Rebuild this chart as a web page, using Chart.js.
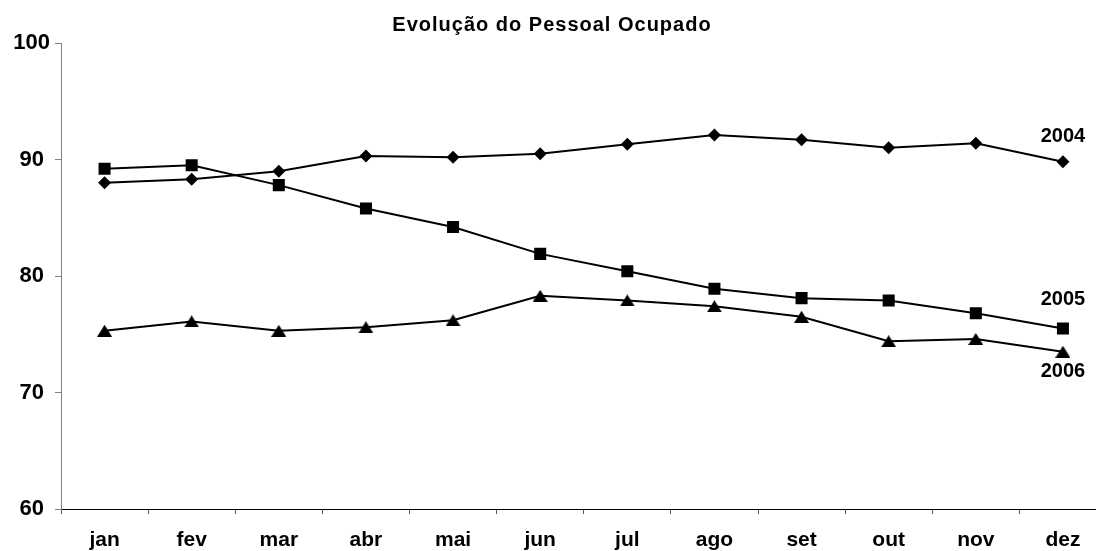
<!DOCTYPE html>
<html>
<head>
<meta charset="utf-8">
<script src="https://cdn.jsdelivr.net/npm/chart.js@4/dist/chart.umd.min.js"></script>
<style>
  html, body { margin: 0; padding: 0; background: #fff; overflow: hidden; }
  #wrap { width: 1115px; height: 551px; }
</style>
</head>
<body>
<div id="wrap"><canvas id="chart"></canvas></div>
<script>
const months = ['jan', 'fev', 'mar', 'abr', 'mai', 'jun', 'jul', 'ago', 'set', 'out', 'nov', 'dez'];
const yearLabels = ['2004', '2005', '2006'];
const serie2004 = [88.0, 88.3, 89.0, 90.3, 90.2, 90.5, 91.3, 92.1, 91.7, 91.0, 91.4, 89.8];
const serie2005 = [89.2, 89.5, 87.8, 85.8, 84.2, 81.9, 80.4, 78.9, 78.1, 77.9, 76.8, 75.5];
const serie2006 = [75.3, 76.1, 75.3, 75.6, 76.2, 78.3, 77.9, 77.4, 76.5, 74.4, 74.6, 73.5];
const labelOffsets = [-25, -29, 20]; // deslocamento vertical do rótulo do ano
const chartTitle = 'Evolução do Pessoal Ocupado';

const FONT = 'Arial, "Liberation Sans", sans-serif';

// triângulo centrado pela caixa (como no Excel), não pelo circuncentro
function triangleMarker(w, h) {
  const c = document.createElement('canvas');
  c.width = w; c.height = h;
  const g = c.getContext('2d');
  g.fillStyle = '#000';
  g.beginPath();
  g.moveTo(w / 2, 0);
  g.lineTo(w, h);
  g.lineTo(0, h);
  g.closePath();
  g.fill();
  return c;
}

// título e rótulos dos anos
const extraText = {
  id: 'extraText',
  afterDraw(chart) {
    const ctx = chart.ctx;
    ctx.save();
    ctx.fillStyle = '#000';
    ctx.textAlign = 'center';
    ctx.textBaseline = 'middle';
    ctx.font = 'bold 20px ' + FONT;
    ctx.letterSpacing = '1px';
    ctx.fillText(chartTitle, 552, 25);
    ctx.letterSpacing = '0px';
    ctx.font = 'bold 20px ' + FONT;
    chart.data.datasets.forEach((ds, i) => {
      const meta = chart.getDatasetMeta(i);
      const pt = meta.data[meta.data.length - 1];
      if (!pt) return;
      ctx.fillText(ds.label, pt.x, pt.y + labelOffsets[i]);
    });
    ctx.restore();
  }
};

function makeSet(label, data, style, radius) {
  return {
    label, data,
    borderColor: '#000', backgroundColor: '#000',
    borderWidth: 2,
    pointStyle: style, pointRadius: radius, pointHoverRadius: radius,
    pointBorderWidth: 0,
    tension: 0
  };
}

new Chart(document.getElementById('chart'), {
  type: 'line',
  data: {
    labels: months,
    datasets: [
      makeSet(yearLabels[0], serie2004, 'rectRot', 6.5),
      makeSet(yearLabels[1], serie2005, 'rect', 8.5),
      makeSet(yearLabels[2], serie2006, triangleMarker(15, 12), 8)
    ]
  },
  options: {
    responsive: true,
    maintainAspectRatio: false,
    animation: false,
    layout: { padding: { left: 0, right: 0, top: 43, bottom: 0 } },
    plugins: {
      legend: { display: false },
      tooltip: { enabled: false },
      title: { display: false }
    },
    scales: {
      x: {
        offset: true,
        border: { display: true, color: '#000', width: 1 },
        grid: { display: true, drawOnChartArea: false, offset: true, tickLength: 5, color: '#555' },
        ticks: { color: '#000', font: { family: FONT, size: 21, weight: 'bold' }, padding: 14, maxRotation: 0 },
        afterFit(scale) { scale.height = 42; }
      },
      y: {
        min: 60, max: 100,
        border: { display: true, color: '#808080', width: 1 },
        grid: { display: true, drawOnChartArea: false, tickLength: 6, color: '#808080' },
        ticks: { stepSize: 10, color: '#000', font: { family: FONT, size: 22, weight: 'bold' }, padding: 5, crossAlign: 'center' },
        afterFit(scale) { scale.width = 61; }
      }
    }
  },
  plugins: [extraText]
});
</script>
</body>
</html>
